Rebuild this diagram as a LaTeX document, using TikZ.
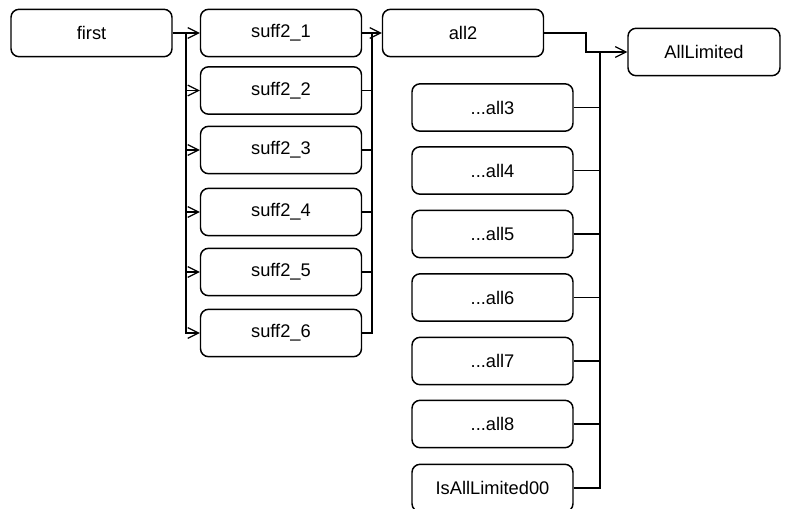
\documentclass[tikz,border=0pt]{standalone}
\usepackage{fontspec}
\setmainfont{Liberation Sans}
\usetikzlibrary{arrows.meta}
\tikzset{
  blk/.style={draw,line width=1.1pt,rounded corners=6pt,minimum width=120.75pt,
    minimum height=35.5pt,inner sep=0pt,font=\fontsize{13.7}{16}\selectfont},
  wire/.style={line width=1pt},
  arr/.style={wire,-{Straight Barb[length=8pt,width=8pt,line width=0.9pt]}}
}
\begin{document}
\begin{tikzpicture}[x=0.75pt,y=-0.75pt]
    \useasboundingbox (0,0) rectangle (785,509);
    \node[blk] (first) at (91.5,33) {first};
    \foreach \i/\Y in {1/33,2/90.5,3/150,4/212,5/272,6/333} {
        \node[blk] (s\i) at (281,\Y) {suff2\_\i};}
    \node[blk] (all2) at (463,33) {all2};
    \node[blk,minimum width=114pt] (lim) at (704,52) {AllLimited};
    \foreach \i/\Y in {3/107.5,4/170.5,5/234,6/297.5,7/361,8/424} {
        \node[blk] (a\i) at (492.5,\Y) {...all\i};}
    \node[blk] (a9) at (492.5,488) {IsAllLimited00};
    \coordinate (b1) at (186,33);
    \coordinate (b2) at (372,33);
    \coordinate (k) at (586,33);
    \coordinate (b3) at (600,52);
		\draw[arr] (first) -- (s1);
		\foreach \i in {2,...,6} {
			\draw[arr] (b1) |- (s\i.west);}
		\foreach \i in {1,...,6} {
			\draw[wire] (s\i.east) -| (b2);}
		\draw[arr] (b2) -- (all2.west);
		\draw[arr] (all2.east) -- (k) |- (lim.west);
		\foreach \i in {3,...,9} {
			\draw[wire] (a\i.east) -| (b3);}
\end{tikzpicture}
\end{document}
